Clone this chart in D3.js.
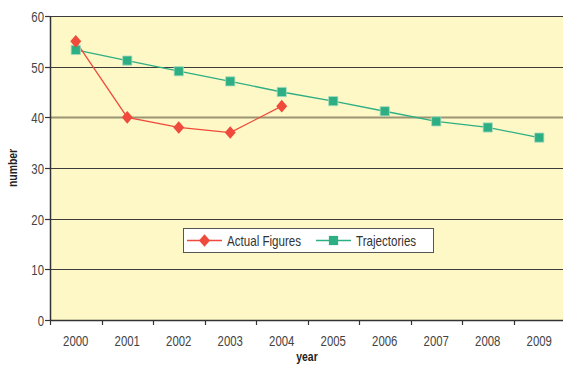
<!DOCTYPE html>
<html>
<head>
<meta charset="utf-8">
<script src="https://cdn.jsdelivr.net/npm/d3@7"></script>
<style>
  html, body { margin: 0; padding: 0; background: #fff; }
  svg { display: block; }
  text { font-family: "Liberation Sans", Arial, sans-serif; }
</style>
</head>
<body>
<svg id="chart" width="563" height="365"></svg>
<script>
const years = ["2000","2001","2002","2003","2004","2005","2006","2007","2008","2009"];
const actualYears = ["2000","2001","2002","2003","2004"];
const actualValues = [55, 40, 38, 37, 42.2];
const trajectoryValues = [53.3, 51.2, 49.1, 47.1, 45, 43.2, 41.2, 39.2, 38, 36];
const yTicks = [0, 10, 20, 30, 40, 50, 60];
const seriesNames = ["Actual Figures", "Trajectories"];

const svg = d3.select("#chart");
const plotLeft = 50, plotTop = 16, plotBottom = 320, plotRight = 565;

const x = d3.scaleBand().domain(years).range([plotLeft, plotRight]).padding(0);
const y = d3.scaleLinear().domain([0, 60]).range([plotBottom, plotTop]);

const red = "#ef4a3b", green = "#2eae83";

// condensed text placed at (px, py)
function label(parent, px, py, str, opts = {}) {
  const sx = opts.squeeze || 0.76;
  const t = parent.append("text")
    .attr("transform", `translate(${px},${py})${opts.rotate ? ` rotate(${opts.rotate})` : ""} scale(${sx},1)`)
    .attr("text-anchor", opts.anchor || "start")
    .attr("font-size", opts.size || 15)
    .attr("fill", opts.fill || "#444")
    .text(str);
  if (opts.bold) t.attr("font-weight", "bold");
  return t;
}

// plot background
svg.append("rect")
  .attr("x", plotLeft).attr("y", plotTop)
  .attr("width", plotRight - plotLeft).attr("height", plotBottom - plotTop)
  .attr("fill", "#fdf8c6");

// horizontal gridlines
svg.append("g").selectAll("line")
  .data(yTicks.filter(d => d > 0))
  .join("line")
  .attr("x1", plotLeft).attr("x2", plotRight)
  .attr("y1", d => Math.round(y(d)) + 0.5).attr("y2", d => Math.round(y(d)) + 0.5)
  .attr("stroke", d => d === 40 ? "#9c9474" : "#3c3c3c")
  .attr("stroke-width", d => d === 40 ? 2 : 1.2);

// y axis
const gy = svg.append("g");
gy.append("line").attr("x1", plotLeft + 0.5).attr("x2", plotLeft + 0.5)
  .attr("y1", plotTop).attr("y2", plotBottom).attr("stroke", "#333").attr("stroke-width", 1.5);
yTicks.forEach(v => {
  const ty = Math.round(y(v)) + 0.5;
  gy.append("line").attr("x1", plotLeft - 5).attr("x2", plotLeft)
    .attr("y1", ty).attr("y2", ty).attr("stroke", "#333").attr("stroke-width", 1.2);
  label(gy, plotLeft - 6, ty + 5.5, String(v), { anchor: "end" });
});

// x axis with ticks between categories
const gx = svg.append("g");
gx.append("line").attr("x1", plotLeft).attr("x2", plotRight)
  .attr("y1", plotBottom + 0.5).attr("y2", plotBottom + 0.5).attr("stroke", "#333").attr("stroke-width", 1.5);
years.forEach(yr => {
  const tx = Math.round(x(yr)) + 0.5;
  gx.append("line").attr("x1", tx).attr("x2", tx)
    .attr("y1", plotBottom).attr("y2", plotBottom + 5)
    .attr("stroke", "#333").attr("stroke-width", 1.2);
  label(gx, x(yr) + x.bandwidth() / 2, plotBottom + 25.5, yr, { anchor: "middle" });
});

// axis titles
label(svg, 17, (plotTop + plotBottom) / 2, "number", { anchor: "middle", rotate: -90, bold: true, size: 13, fill: "#222", squeeze: 0.8 });
label(svg, 307, 361, "year", { anchor: "middle", bold: true, size: 13, fill: "#222", squeeze: 0.8 });

const cx = d => x(d) + x.bandwidth() / 2;
const line = d3.line().x(d => cx(d[0])).y(d => y(d[1]));

const trajData = years.map((yr, i) => [yr, trajectoryValues[i]]);
const actualData = actualYears.map((yr, i) => [yr, actualValues[i]]);

svg.append("path").datum(trajData)
  .attr("d", line).attr("fill", "none").attr("stroke", green).attr("stroke-width", 1.3);
svg.append("path").datum(actualData)
  .attr("d", line).attr("fill", "none").attr("stroke", red).attr("stroke-width", 1.3);

const square = d3.symbol().type(d3.symbolSquare).size(85);
const diamond = (s) => `M0,${-s * 1.15}L${s},0L0,${s * 1.15}L${-s},0Z`;

svg.append("g").selectAll("path")
  .data(trajData)
  .join("path")
  .attr("transform", d => `translate(${cx(d[0])},${y(d[1])})`)
  .attr("d", square)
  .attr("fill", green).attr("stroke", "#a8dcc0").attr("stroke-width", 0.8);

svg.append("g").selectAll("path")
  .data(actualData)
  .join("path")
  .attr("transform", d => `translate(${cx(d[0])},${y(d[1])})`)
  .attr("d", diamond(5.5))
  .attr("fill", red);

// legend
const lg = svg.append("g");
lg.append("rect").attr("x", 183.5).attr("y", 228.5).attr("width", 250).attr("height", 24)
  .attr("fill", "#fff").attr("stroke", "#555").attr("stroke-width", 1);
const items = [
  { name: seriesNames[0], color: red, x0: 187, marker: "d" },
  { name: seriesNames[1], color: green, x0: 316, marker: "s" }
];
items.forEach(it => {
  const my = 240.5;
  lg.append("line").attr("x1", it.x0).attr("x2", it.x0 + 35)
    .attr("y1", my).attr("y2", my).attr("stroke", it.color).attr("stroke-width", 1.3);
  lg.append("path")
    .attr("transform", `translate(${it.x0 + 17.5},${my})`)
    .attr("d", it.marker === "d" ? diamond(5.5) : square)
    .attr("fill", it.color);
  label(lg, it.x0 + 40, my + 5, it.name, { fill: "#333", size: 14.5, squeeze: 0.8 });
});
</script>
</body>
</html>
